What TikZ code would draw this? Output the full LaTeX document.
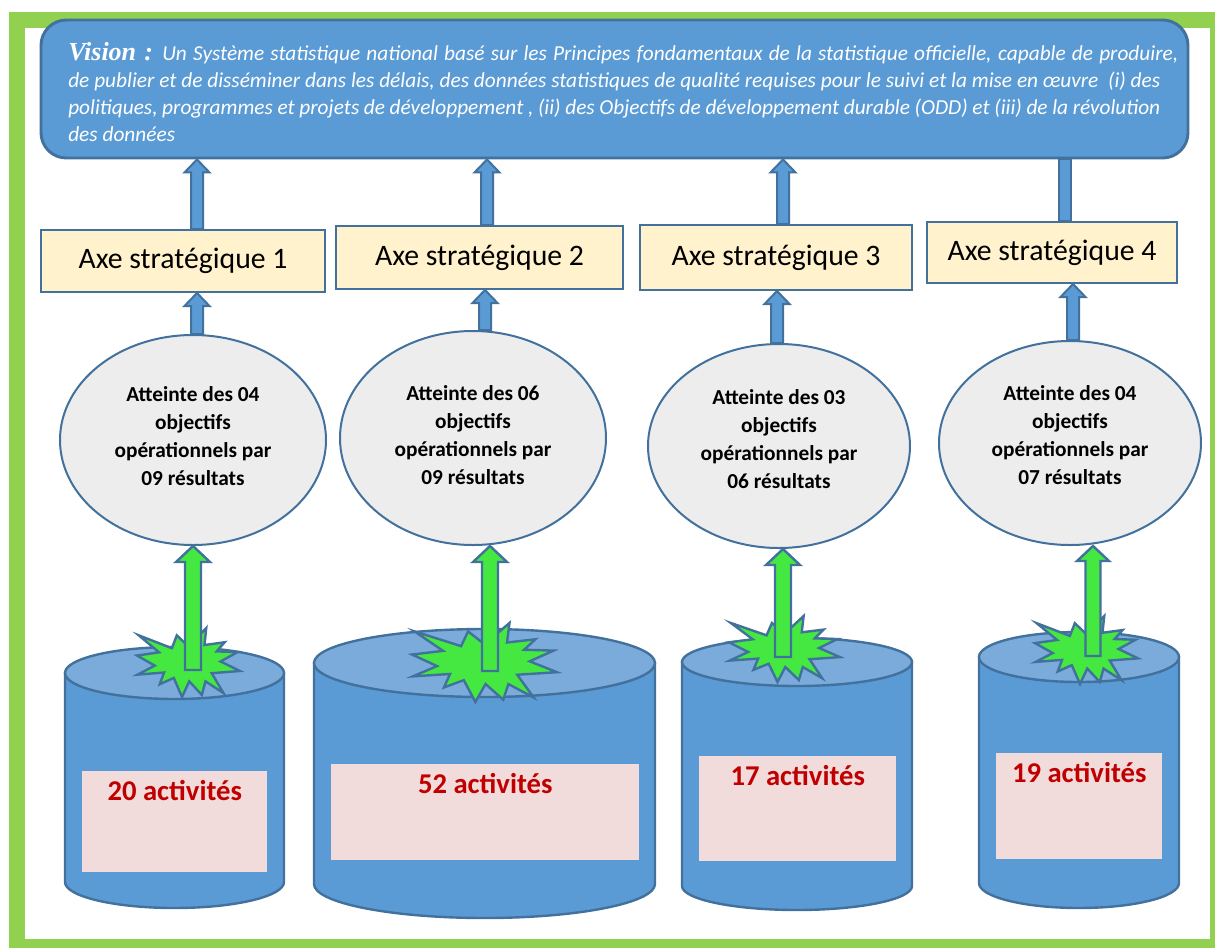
\documentclass[tikz,border=0pt]{standalone}
\usepackage{fontspec}
\setmainfont{Carlito}
\newfontfamily\visfont{Liberation Serif}
\usetikzlibrary{shapes.geometric,calc}
\definecolor{bfill}{HTML}{5B9BD5}
\definecolor{bline}{HTML}{41719C}
\definecolor{ctop}{HTML}{7AABDB}
\definecolor{efill}{HTML}{EDEDED}
\definecolor{afill}{HTML}{FFF2CC}
\definecolor{pfill}{HTML}{F2DCDB}
\definecolor{rtext}{HTML}{C00000}
\definecolor{gstar}{HTML}{44E840}
\definecolor{gframe}{HTML}{92D050}
\newcommand\px[1]{#1*0.75pt}
% block arrow pointing up: style, from, to, half shaft, half head, head length (px)
\newcommand\uparr[6]{%
  \draw[#1] let \p1=(#2), \p2=(#3) in
    (\x2-#4*0.75pt,\y1) -- (\x2-#4*0.75pt,\y2-#6*0.75pt) -- (\x2-#5*0.75pt,\y2-#6*0.75pt)
    -- (\x2,\y2) -- (\x2+#5*0.75pt,\y2-#6*0.75pt) -- (\x2+#4*0.75pt,\y2-#6*0.75pt)
    -- (\x2+#4*0.75pt,\y1) -- cycle;}
% explosion burst: left, top, width, height
\newcommand\burst[4]{%
  \draw[grn, shift={(#1,#2)}, xscale=#3/216, yscale=#4/216]
  (108,58) -- (83.52,22.95) -- (73.12,63.2) -- (3.7,22.95) -- (46.27,76.17) -- (0,86.15)
  -- (37.22,117.75) -- (1.35,145.87) -- (56.67,139.37) -- (47.62,176.17) -- (77.15,156.27)
  -- (94.4,216) -- (109.55,167.02) -- (135.95,209.62) -- (143.65,167.02) -- (181.32,203.62)
  -- (156.72,141.45) -- (216,134.55) -- (175.27,104.75) -- (210.97,75.42) -- (167.02,73.15)
  -- (183.8,44.57) -- (141.55,53.25) -- (145.22,0) -- cycle;}
% cylinder: left, right, top centre y, bottom centre y, y radius
\newcommand\cyl[5]{%
  \draw[cylbody] (#1,#3) -- (#1,#4) arc[start angle=180, end angle=0, x radius={(#2-#1)/2}, y radius=#5]
    -- (#2,#3) -- cycle;
  \draw[cyltop] ({(#1+#2)/2},#3) ellipse[x radius={(#2-#1)/2}, y radius=#5];}
\begin{document}
\begin{tikzpicture}[x=0.75pt,y=-0.75pt,
  visbox/.style={draw=bline, line width=2.2pt, fill=bfill, rounded corners=19pt,
    minimum width=\px{1147}, minimum height=\px{138}, inner sep=0pt},
  vistext/.style={anchor=north west, text=white, align=left, inner sep=0pt,
    font=\itshape\fontsize{16}{20.25}\selectfont},
  axebox/.style={draw=bline, line width=1.5pt, fill=afill, inner sep=0pt,
    font=\fontsize{22.3}{25}\selectfont},
  goal/.style={ellipse, draw=bline, line width=1.5pt, fill=efill, inner sep=0pt},
  goaltext/.style={align=center, inner sep=0pt, font=\bfseries\fontsize{16}{21}\selectfont},
  blk/.style={draw=bline, line width=1.5pt, fill=bfill, line join=miter},
  grn/.style={draw=bline, line width=1.8pt, fill=gstar, line join=miter},
  cylbody/.style={draw=bline, line width=1.8pt, fill=bfill},
  cyltop/.style={draw=bline, line width=1.8pt, fill=ctop},
  actbox/.style={fill=pfill, inner sep=0pt, anchor=north west},
  acttext/.style={anchor=base, text=rtext, inner sep=0pt, font=\bfseries\fontsize{21.5}{25}\selectfont},
]
\useasboundingbox (0,0) rectangle (1215,947);
\fill[white] (0,0) rectangle (1215,947);
\draw[gframe, line width=12pt] (17,20) rectangle (1218,947);

% vision
\node[visbox] (vision) at (614.5,89) {};
\node[vistext] (vtext) at (68,42) {\makebox[832.5pt][s]{{\visfont\bfseries\itshape\fontsize{19.5}{20}\selectfont Vision :} Un Système statistique national basé sur les Principes fondamentaux de la statistique officielle, capable de produire,}\\
\makebox[819pt][s]{de publier et de disséminer dans les délais, des données statistiques de qualité requises pour le suivi et la mise en œuvre~ (i) des}\\
\makebox[819pt][s]{politiques, programmes et projets de développement , (ii) des Objectifs de développement durable (ODD) et (iii) de la révolution}\\
des données};

% axes
\node[axebox, minimum width=\px{284}, minimum height=\px{62}] (a1) at (183,261) {Axe stratégique 1};
\node[axebox, minimum width=\px{287}, minimum height=\px{63}] (a2) at (479.5,257.5) {Axe stratégique 2};
\node[axebox, minimum width=\px{272}, minimum height=\px{65}] (a3) at (776,257.5) {Axe stratégique 3};
\node[axebox, minimum width=\px{250}, minimum height=\px{61}] (a4) at (1052,252.5) {Axe stratégique 4};

% objectives
\node[goal, minimum width=\px{266}, minimum height=\px{210}] (e1) at (193,440) {};
\node[goal, minimum width=\px{266}, minimum height=\px{214}] (e2) at (473,438) {};
\node[goal, minimum width=\px{262}, minimum height=\px{204}] (e3) at (779,446) {};
\node[goal, minimum width=\px{262}, minimum height=\px{204}] (e4) at (1070,443) {};
\node[goaltext] (o1) at ($(e1)+(0,-4)$) {Atteinte des 04\\objectifs\\opérationnels par\\09 résultats};
\node[goaltext] (o2) at ($(e2)+(0,-3)$) {Atteinte des 06\\objectifs\\opérationnels par\\09 résultats};
\node[goaltext] (o3) at ($(e3)+(0,-7)$) {Atteinte des 03\\objectifs\\opérationnels par\\06 résultats};
\node[goaltext] (o4) at ($(e4)+(0,-8)$) {Atteinte des 04\\objectifs\\opérationnels par\\07 résultats};

% arrow columns
\coordinate (u1) at (197,0); \coordinate (u2) at (487,0); \coordinate (u3) at (783,0); \coordinate (u4) at (1065,0);
\coordinate (d1) at (197,0); \coordinate (d2) at (485,0); \coordinate (d3) at (777,0); \coordinate (d4) at (1073,0);

% axes -> vision
\uparr{blk}{u1|-a1.north}{u1|-vision.south}{6}{12.5}{13}
\uparr{blk}{u2|-a2.north}{u2|-vision.south}{6}{12.5}{13}
\uparr{blk}{u3|-a3.north}{u3|-vision.south}{6}{12.5}{13}
\draw[blk] let \p1=(u4|-a4.north), \p2=(u4|-vision.south) in
  (\x1-4.5pt,\y1) rectangle (\x2+4.5pt,\y2);

% objectives -> axes
\uparr{blk}{d1|-e1.north}{d1|-a1.south}{6}{12.5}{13}
\uparr{blk}{d2|-e2.north}{d2|-a2.south}{6}{12.5}{13}
\uparr{blk}{d3|-e3.north}{d3|-a3.south}{6}{12.5}{13}
\uparr{blk}{d4|-e4.north}{d4|-a4.south}{6}{12.5}{13}

% cylinders
\cyl{65}{284}{673}{882}{26}
\cyl{314}{655}{663}{884}{34}
\cyl{682}{912}{662}{886}{24}
\cyl{979}{1179}{657}{883}{25}

% activity boxes
\node[actbox, minimum width=\px{185}, minimum height=\px{101}] (p1) at (82,771) {};
\node[actbox, minimum width=\px{308}, minimum height=\px{96}] (p2) at (331,764) {};
\node[actbox, minimum width=\px{197}, minimum height=\px{105}] (p3) at (699,756) {};
\node[actbox, minimum width=\px{166}, minimum height=\px{106}] (p4) at (996,753) {};
\node[acttext] (t1) at ($(p1.north)+(0,29)$) {20 activités};
\node[acttext] (t2) at ($(p2.north)+(0,29)$) {52 activités};
\node[acttext] (t3) at ($(p3.north)+(0,29)$) {17 activités};
\node[acttext] (t4) at ($(p4.north)+(0,29)$) {19 activités};

% bursts
\burst{137}{628}{103}{69}
\burst{412}{623}{145}{79}
\burst{729}{616}{111}{66}
\burst{1035}{616}{103}{68}

% green arrows
\coordinate (g1) at (193,670); \coordinate (g2) at (490,671);
\coordinate (g3) at (783,657); \coordinate (g4) at (1093,656);
\uparr{grn}{g1}{g1|-e1.south}{8}{17}{16}
\uparr{grn}{g2}{g2|-e2.south}{8}{17}{16}
\uparr{grn}{g3}{g3|-e3.south}{8}{17}{16}
\uparr{grn}{g4}{g4|-e4.south}{7.5}{16}{15}
\end{tikzpicture}
\end{document}
